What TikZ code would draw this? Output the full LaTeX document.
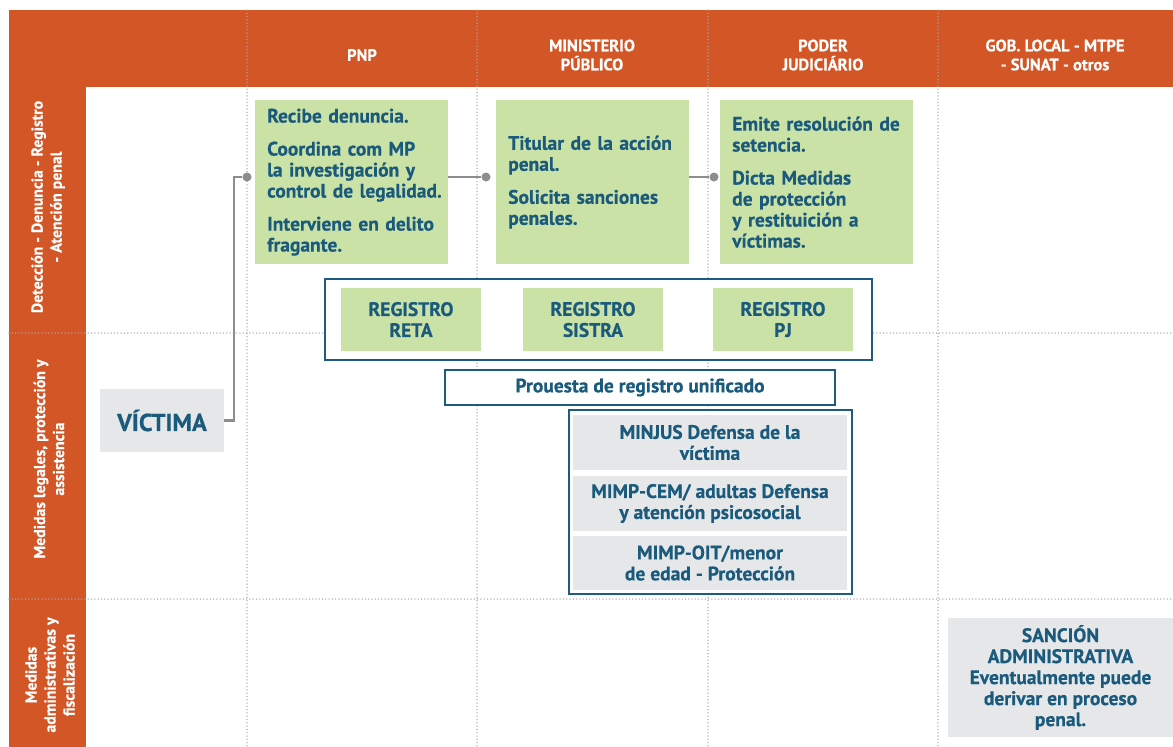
\documentclass[tikz,border=0pt]{standalone}
\usepackage{fontspec}
\setmainfont{PT Sans}[BoldFeatures={FakeBold=0.5}]
\hyphenpenalty=10000
\exhyphenpenalty=10000
\hbadness=10000
\hfuzz=20pt
\definecolor{org}{HTML}{D35627}
\definecolor{grn}{HTML}{CBE2A6}
\definecolor{tx}{HTML}{1A5A7C}
\definecolor{bd}{HTML}{1D5B80}
\definecolor{gry}{HTML}{E6E7E8}
\definecolor{cn}{HTML}{8C8D8F}
\definecolor{dt}{HTML}{A7A9AC}
\tikzset{
  gridline/.style={dt, line width=1.5pt, line cap=round, dash pattern=on 0pt off 3.3pt},
  hdr/.style={text=white, font=\bfseries\fontsize{16.5}{19}\selectfont, align=center, inner sep=0pt},
  rowlab/.style={hdr, font=\bfseries\fontsize{15.8}{19}\selectfont, rotate=90},
  bodyfont/.style={text=tx, font=\bfseries\fontsize{19.5}{21}\selectfont},
  greenbox/.style={bodyfont, fill=grn, anchor=north west, inner xsep=12pt, inner ysep=0pt,
     minimum width=193pt, minimum height=164pt, text width=169pt, align=left},
  regbox/.style={bodyfont, fill=grn, align=center, minimum width=140pt, minimum height=63pt, inner sep=0pt},
  greybox/.style={bodyfont, fill=gry, align=center, inner sep=0pt},
  frame/.style={draw=bd, line width=2.5pt, fill=white, inner sep=0pt},
  conn/.style={cn, line width=2.2pt},
  dotnode/.style={circle, fill=cn, inner sep=0pt, minimum size=9pt}
}
\begin{document}
\begin{tikzpicture}[x=1pt,y=-1pt]
\useasboundingbox (0,0) rectangle (1173,747);
\fill[white] (0,0) rectangle (1173,747);
% orange bands
\fill[org] (9,10) rectangle (1173,87);
\fill[org] (9,10) rectangle (86,747);
% grid
\foreach \x in {247,477,708,938} \draw[gridline] (\x,10) -- (\x,747);
\foreach \y in {333,599} \draw[gridline] (9,\y) -- (1173,\y);
% headers
\node[hdr] (hpnp) at (362,55) {PNP};
\node[hdr] (hmp) at (592,55) {MINISTERIO\\PÚBLICO};
\node[hdr] (hpj) at (823,55) {PODER\\JUDICIÁRIO};
\node[hdr] (hgob) at (1055,55) {GOB. LOCAL - MTPE\\- SUNAT - otros};
% row labels
\node[rowlab] (r1) at (48,207) {Detección - Denuncia - Registro\\- Atención penal};
\node[rowlab] (r2) at (49,459) {Medidas legales, protección y\\assistencia};
\node[rowlab] (r3) at (50,675) {Medidas\\administrativas y\\fiscalización};
% green boxes
\node[greenbox] (pnp) at (255,100) {Recibe denuncia.\\[12pt]Coordina com MP\\la investigación y\\\mbox{control de legalidad.}\\[12pt]Interviene en delito\\fragante.};
\node[greenbox] (mp) at (496,100) {Titular de la acción\\penal.\\[12pt]Solicita sanciones\\penales.};
\node[greenbox] (pj) at (720,100) {Emite resolución de\\setencia.\\[12pt]Dicta Medidas\\de protección\\y restituición a\\víctimas.};
% registros
\node[frame, minimum width=547pt, minimum height=81pt] (reg) at (598.5,319.5) {};
\node[regbox] (reta) at (411,319.5) {REGISTRO\\RETA};
\node[regbox] (sistra) at (593,319.5) {REGISTRO\\SISTRA};
\node[regbox] (regpj) at (783,319.5) {REGISTRO\\PJ};
% propuesta
\node[frame, bodyfont, minimum width=390pt, minimum height=35pt] (prop) at (640,387.5) {Prouesta de registro unificado};
% asistencia
\node[frame, minimum width=283pt, minimum height=184pt] (asis) at (710.5,502) {};
\node[greybox, minimum width=274pt, minimum height=55pt] (minjus) at (710,442.5) {MINJUS Defensa de la\\víctima};
\node[greybox, minimum width=274pt, minimum height=55pt] (cem) at (710,503.5) {MIMP-CEM/ adultas Defensa\\y atención psicosocial};
\node[greybox, minimum width=274pt, minimum height=54pt] (oit) at (710,563) {MIMP-OIT/menor\\de edad - Protección};
% victima
\node[greybox, font=\bfseries\fontsize{24.5}{28}\selectfont, minimum width=124pt, minimum height=63pt] (vic) at (162,420.5) {VÍCTIMA};
% sancion
\node[greybox, minimum width=225pt, minimum height=119pt] (sanc) at (1060.5,677.5) {SANCIÓN\\ADMINISTRATIVA\\Eventualmente puede\\derivar en proceso\\penal.};
% connectors
\node[dotnode] (d1) at (247,177) {};
\node[dotnode] (d2) at (486,177) {};
\node[dotnode] (d3) at (714,177) {};
\draw[conn] (vic.east) -- ++(10,0) |- (d1);
\draw[conn] (pnp.east |- d2) -- (d2);
\draw[conn] (mp.east |- d3) -- (d3);
\end{tikzpicture}
\end{document}
